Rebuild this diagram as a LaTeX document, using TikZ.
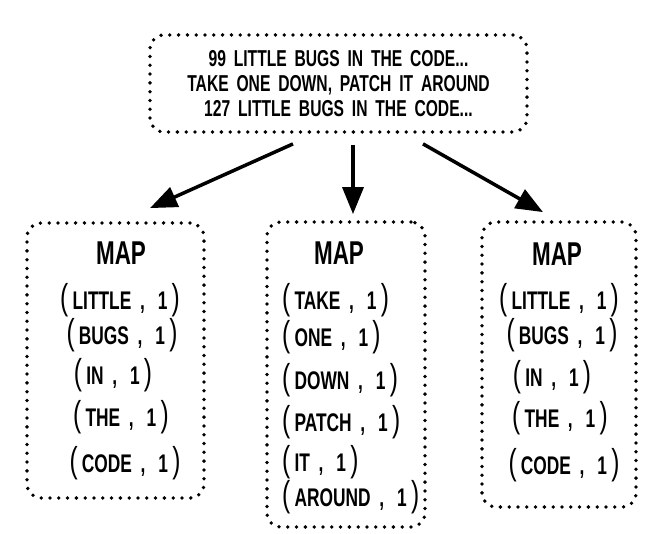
\documentclass[tikz,border=0pt]{standalone}
\usepackage{fontspec}
\setmainfont[FakeStretch=0.68, WordSpace=1.8]{Liberation Sans}
\usetikzlibrary{arrows.meta}
\newcommand{\bigparen}[1]{{\mdseries\fontsize{36pt}{36pt}\selectfont#1}}
\newcommand{\mappair}[2]{\bigparen{(}\,#1 ,\ \,#2\,\bigparen{)}}

\begin{document}
\begin{tikzpicture}[x=1pt, y=-1pt,
    dotbox/.style={draw, line width=3.8pt, line cap=round,
      dash pattern=on 0pt off 8.8pt, rounded corners=14pt},
    flow/.style={-{Triangle[length=27pt, width=21pt]}, line width=3.5pt},
    title/.style={font=\bfseries\fontsize{33pt}{33pt}\selectfont},
    pair/.style={font=\bfseries\fontsize{25.5pt}{26pt}\selectfont, inner sep=0pt}]
    \useasboundingbox (0,0) rectangle (656,534);
    % input text
    \node[dotbox, minimum width=377pt, minimum height=97pt, align=center,
      font=\bfseries\fontsize{23pt}{25pt}\selectfont] (src) at (338.5,83.5)
      {99 LITTLE BUGS IN THE CODE...\\
       TAKE ONE DOWN, PATCH IT AROUND\\
       127 LITTLE BUGS IN THE CODE...};
    % the three map boxes
    \node[dotbox, minimum width=177pt, minimum height=275pt] (map1) at (115.5,360.5) {};
    \node[dotbox, minimum width=158pt, minimum height=305pt] (map2) at (346,374.5) {};
    \node[dotbox, minimum width=154pt, minimum height=285pt] (map3) at (559,364.5) {};
    \node[title] (title1) at (121,253) {MAP};
    \node[title] (title2) at (339,253) {MAP};
    \node[title] (title3) at (557,254) {MAP};
    \foreach \x/\y/\w [count=\i] in {120/300/LITTLE, 122/335/BUGS, 113/375/IN,
      121/417/THE, 125/463/CODE}{
      \node[pair] (pairA\i) at (\x,\y) {\mappair{\w}{1}};
    }
    \foreach \y/\w [count=\i] in {300/TAKE, 337/ONE, 380/DOWN, 422/PATCH,
      462/IT, 497/AROUND}{
      \node[pair, anchor=west] (pairB\i) at (282,\y) {\mappair{\w}{1}};
    }
    \foreach \x/\y/\w [count=\i] in {559/300/LITTLE, 562/335/BUGS, 552/377/IN,
      560/418/THE, 564/465/CODE}{
      \node[pair] (pairC\i) at (\x,\y) {\mappair{\w}{1}};
    }
    % arrows
    \draw[flow] ([xshift=-45.5pt, yshift=-10pt]src.south) -- ([xshift=34.5pt, yshift=13pt]map1.north);
    \draw[flow] ([xshift=14.5pt, yshift=-11pt]src.south) -- ([xshift=7pt, yshift=6pt]map2.north);
    \draw[flow] ([xshift=84.5pt, yshift=-10pt]src.south) -- ([xshift=-16pt, yshift=8pt]map3.north);
\end{tikzpicture}
\end{document}
